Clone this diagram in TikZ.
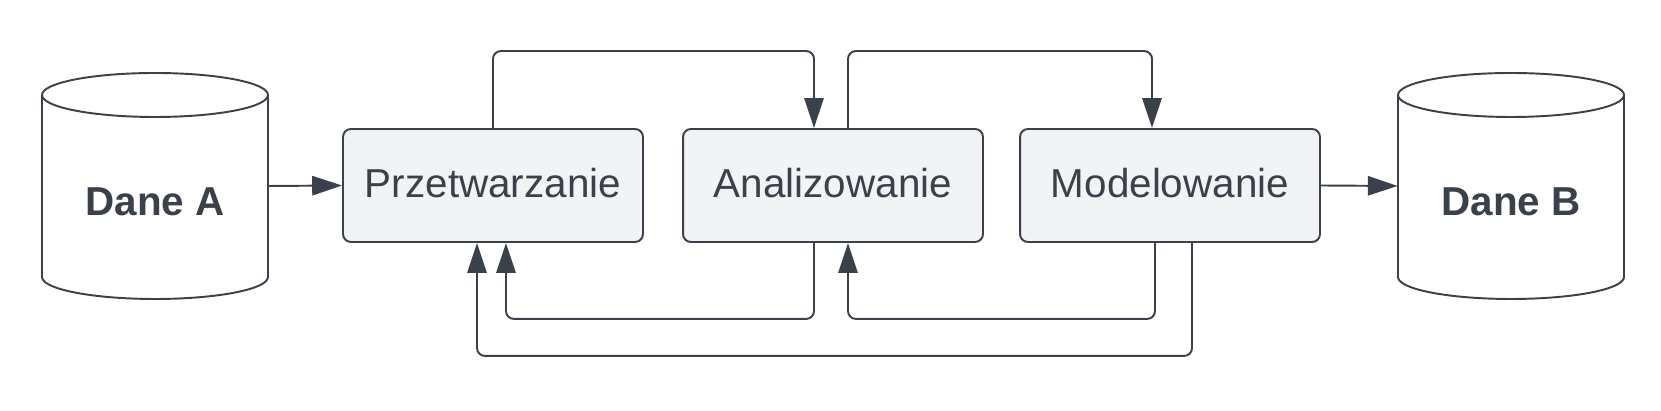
\documentclass[tikz,border=0pt]{standalone}
\usepackage{fontspec}
\setmainfont{Liberation Sans}
\usetikzlibrary{arrows.meta}
\definecolor{ink}{HTML}{3A414A}
\definecolor{boxfill}{HTML}{F2F3F5}

\begin{document}
\begin{tikzpicture}[x=0.02cm,y=0.02cm,
        proc/.style={draw=ink,fill=boxfill,line width=1.1pt,rounded corners=4.5pt,minimum width=6cm,minimum height=2.26cm,inner sep=0pt,text=ink,font=\fontsize{23}{28}\selectfont,text depth=0.25em},
        db/.style={draw=ink,fill=white,line width=1.1pt},
        dbnode/.style={minimum width=4.52cm,minimum height=4.52cm,inner sep=0pt},
        dblab/.style={text=ink,font=\fontsize{23}{28}\selectfont\bfseries},
        flow/.style={draw=ink,line width=1.1pt,rounded corners=4.5pt,-{Triangle[length=17pt,width=11pt]}}]
        \useasboundingbox (0,0) rectangle (1661,411);
        \foreach \n/\x/\t in {dA/155/Dane A,dB/1511/Dane B}{
        \filldraw[db] ({\x-113},316) -- ({\x-113},134) arc[start angle=180,end angle=360,x radius=113,y radius=22] -- ({\x+113},316);
        \filldraw[db] (\x,316) ellipse[x radius=113,y radius=22];
        \node[dbnode] (\n) at (\x,225) {};
        \node[dblab] (\n lab) at (\x,209) {\t};
        }
        \foreach \n/\x/\t in {prz/493/Przetwarzanie,ana/833/Analizowanie,mod/1170/Modelowanie}
        \node[proc] (\n) at (\x,225.5) {\t};
        \draw[flow] (dA.east) -- (prz.west);
        \draw[flow] (mod.east) -- (dB.west);
        \draw[flow] (prz.north) -- ++(0,77) -| ([xshift=-0.38cm]ana.north);
        \draw[flow] ([xshift=0.3cm]ana.north) -- ++(0,77) -| ([xshift=-0.36cm]mod.north);
        \draw[flow] ([xshift=-0.38cm]ana.south) -- ++(0,-76) -| ([xshift=0.26cm]prz.south);
        \draw[flow] ([xshift=-0.3cm]mod.south) -- ++(0,-76) -| ([xshift=0.3cm]ana.south);
        \draw[flow] ([xshift=0.44cm]mod.south) -- ++(0,-113) -| ([xshift=-0.32cm]prz.south);
\end{tikzpicture}
\end{document}
